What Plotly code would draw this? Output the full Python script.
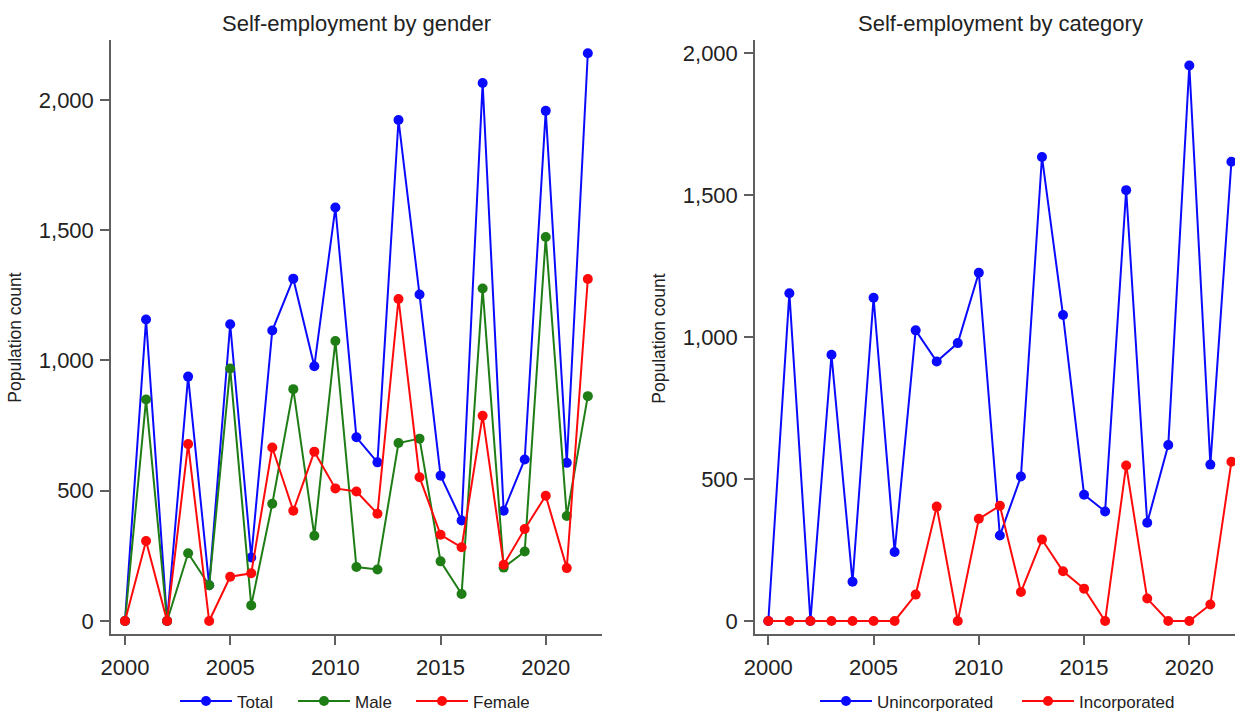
import plotly.graph_objects as go

# ---------------- data ----------------
years = list(range(2000, 2023))
total = [0, 1157, 0, 938, 137, 1139, 244, 1115, 1314, 978, 1587, 705, 609,
         1923, 1253, 558, 386, 2065, 423, 620, 1958, 607, 2179]
male = [0, 850, 0, 260, 137, 969, 60, 450, 890, 327, 1075, 207, 198,
        683, 700, 229, 104, 1276, 205, 267, 1474, 403, 863]
female = [0, 307, 0, 679, 0, 170, 183, 666, 423, 650, 509, 497, 412,
          1236, 552, 331, 283, 788, 216, 353, 481, 203, 1313]
unincorporated = [0, 1155, 0, 938, 138, 1139, 243, 1024, 914, 979, 1227, 301, 509,
                  1635, 1078, 445, 386, 1518, 346, 620, 1957, 551, 1618]
incorporated = [0, 0, 0, 0, 0, 0, 0, 93, 403, 0, 360, 406, 102,
                287, 175, 114, 0, 548, 79, 0, 0, 58, 561]

x_ticks = [2000, 2005, 2010, 2015, 2020]
y_ticks = [0, 500, 1000, 1500, 2000]

titles = ["Self-employment by gender", "Self-employment by category"]
y_title = "Population count"

# ---------------- style ----------------
W, H = 1235, 712
FONT = "Liberation Sans, Arial, sans-serif"
BLUE = "#0a0aff"
GREEN = "#1f7d16"
RED = "#ff0a0a"
AXIS = "#5f5f5f"
TXT = "#222222"

fig = go.Figure()


def add(x, y, name, color, xa, ya, legend, lw):
    fig.add_trace(go.Scatter(
        x=x, y=y, name=name, mode="lines+markers",
        line=dict(color=color, width=2),
        marker=dict(color=color, size=10),
        xaxis=xa, yaxis=ya, legend=legend, cliponaxis=False,
        legendwidth=lw,
    ))


add(years, total, "Total", BLUE, "x", "y", "legend", 51)
add(years, male, "Male", GREEN, "x", "y", "legend", 51)
add(years, female, "Female", RED, "x", "y", "legend", 51)
add(years, unincorporated, "Unincorporated", BLUE, "x2", "y2", "legend2", 135)
add(years, incorporated, "Incorporated", RED, "x2", "y2", "legend2", 135)

ydom = [(H - 634.3) / H, (H - 40) / H]

xcommon = dict(tickvals=x_ticks, ticks="outside", ticklen=9, tickwidth=1.5,
               tickcolor=AXIS, showline=True, linecolor=AXIS, linewidth=1.5,
               showgrid=False, zeroline=False, ticklabelstandoff=4,
               tickfont=dict(family=FONT, size=22, color=TXT))
ycommon = dict(tickvals=y_ticks, tickformat=",", ticks="outside", ticklen=9,
               tickwidth=1.5, tickcolor=AXIS, showline=True, linecolor=AXIS,
               linewidth=1.5, showgrid=False, zeroline=False, ticklabelstandoff=2,
               tickfont=dict(family=FONT, size=22, color=TXT))

leg_common = dict(orientation="h", xanchor="left", y=(H - 701.5) / H,
                  yanchor="middle", itemwidth=52,
                  font=dict(family=FONT, size=17, color=TXT),
                  bgcolor="rgba(0,0,0,0)", borderwidth=0)

fig.update_layout(
    width=W, height=H,
    margin=dict(l=0, r=0, t=0, b=0, autoexpand=False),
    paper_bgcolor="white", plot_bgcolor="white",
    font=dict(family=FONT, color=TXT),
    xaxis=dict(domain=[111 / W, 601.7 / W], range=[1999.334, 2022.66],
               anchor="y", **xcommon),
    yaxis=dict(domain=ydom, range=[-51, 2230], anchor="x", **ycommon),
    xaxis2=dict(domain=[755 / W, 1.0], range=[1999.367, 2022.17],
                anchor="y2", **xcommon),
    yaxis2=dict(domain=ydom, range=[-46.9, 2047], anchor="x2", **ycommon),
    legend=dict(x=175 / W, **leg_common),
    legend2=dict(x=815 / W, **leg_common),
    showlegend=True,
)

# titles
fig.add_annotation(text=titles[0], x=356.5 / W, y=(H - 24) / H, xref="paper",
                   yref="paper", xanchor="center", yanchor="middle",
                   showarrow=False, font=dict(family=FONT, size=22, color=TXT))
fig.add_annotation(text=titles[1], x=1000 / W, y=(H - 24) / H, xref="paper",
                   yref="paper", xanchor="center", yanchor="middle",
                   showarrow=False, font=dict(family=FONT, size=22, color=TXT))
# y axis titles
for xc in (15, 659):
    fig.add_annotation(text=y_title, x=xc / W, y=(H - 337.7) / H, xref="paper",
                       yref="paper", xanchor="center", yanchor="middle",
                       textangle=-90, showarrow=False,
                       font=dict(family=FONT, size=17.5, color=TXT))

fig.write_html("out.html")
